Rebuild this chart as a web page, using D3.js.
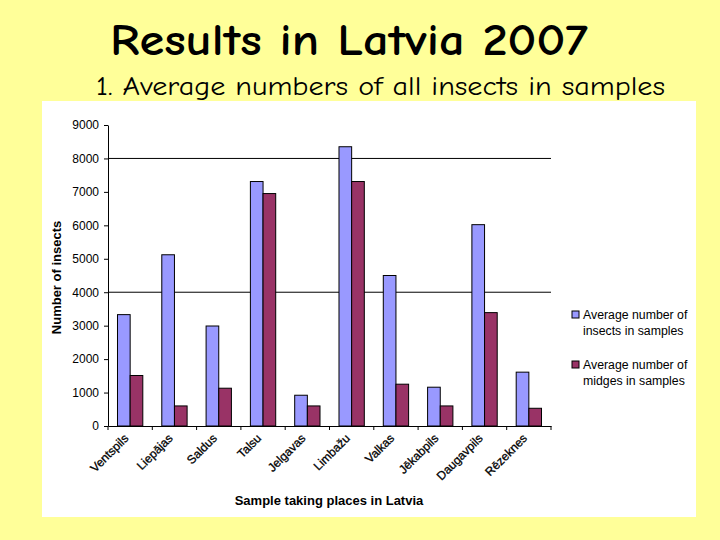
<!DOCTYPE html>
<html><head><meta charset="utf-8">
<script src="https://cdn.jsdelivr.net/npm/d3@7"></script>
<style>
html,body{margin:0;padding:0;background:#FFFF99;}
svg{display:block;}
</style></head>
<body>
<script>
const categories = ["Ventspils","Liepājas","Saldus","Talsu","Jelgavas","Limbažu","Valkas","Jēkabpils","Daugavpils","Rēzeknes"];
const insects = [3330, 5120, 2990, 7310, 920, 8350, 4500, 1160, 6020, 1610];
const midges = [1510, 600, 1130, 6950, 600, 7310, 1250, 600, 3390, 530];
const seriesNames = ["Average number of|insects in samples", "Average number of|midges in samples"];
const yTicks = [0,1000,2000,3000,4000,5000,6000,7000,8000,9000];
const gridValues = [4000, 8000];
const colors = ["#9999FF", "#993366"];

const W = 720, H = 540;
const svg = d3.select("body").append("svg").attr("width", W).attr("height", H);
svg.append("rect").attr("width", W).attr("height", H).attr("fill", "#FFFF99");

svg.append("text").attr("x", 110).attr("y", 55)
  .attr("font-family", "'Comic Sans MS','Comic Neue','DejaVu Sans',sans-serif").attr("font-size", 44).attr("font-weight", "bold")
  .attr("textLength", 478).attr("lengthAdjust", "spacingAndGlyphs")
  .text("Results in Latvia 2007");
svg.append("text").attr("x", 96).attr("y", 95)
  .attr("font-family", "'Comic Sans MS','Comic Neue','DejaVu Sans',sans-serif").attr("font-size", 27)
  .attr("textLength", 569).attr("lengthAdjust", "spacingAndGlyphs")
  .text("1. Average numbers of all insects in samples");

svg.append("rect").attr("x", 42).attr("y", 101).attr("width", 654).attr("height", 416).attr("fill", "#fff");

const x0 = 108, x1 = 551, yTop = 125, yBot = 426;
const x = d3.scaleBand().domain(categories).range([x0, x1]).paddingInner(0).paddingOuter(0);
const y = d3.scaleLinear().domain([0, 9000]).range([yBot, yTop]);
const barW = x.bandwidth() / 3.5;

const g = svg.append("g").attr("font-family", "Arial, 'Liberation Sans', sans-serif");

g.selectAll(".grid").data(gridValues).join("line")
  .attr("x1", x0).attr("x2", x1).attr("y1", d => y(d)).attr("y2", d => y(d))
  .attr("stroke", "#000").attr("stroke-width", 1);

[insects, midges].forEach((vals, si) => {
  g.selectAll(".b" + si).data(categories).join("rect")
    .attr("x", d => x(d) + x.bandwidth() / 2 - barW + si * barW)
    .attr("y", (d, i) => y(vals[i]))
    .attr("width", barW)
    .attr("height", (d, i) => yBot - y(vals[i]))
    .attr("fill", colors[si]).attr("stroke", "#000").attr("stroke-width", 1);
});

const yAxis = d3.axisLeft(y).tickValues(yTicks).tickSize(4).tickSizeOuter(0).tickFormat(d3.format("d"));
const ya = g.append("g").attr("transform", `translate(${x0},0)`).call(yAxis);
ya.selectAll("text").attr("font-size", 12).attr("fill", "#000").attr("x", -9).attr("font-family", "Arial, 'Liberation Sans', sans-serif");
ya.selectAll("line,path").attr("stroke", "#000");

const xAxis = d3.axisBottom(x).tickSize(0).tickSizeOuter(0).tickFormat("");
const xa = g.append("g").attr("transform", `translate(0,${yBot})`).call(xAxis);
xa.selectAll("path").attr("stroke", "#000");
g.selectAll(".xt").data(d3.range(categories.length + 1)).join("line")
  .attr("x1", i => x0 + i * x.bandwidth()).attr("x2", i => x0 + i * x.bandwidth())
  .attr("y1", yBot).attr("y2", yBot + 4).attr("stroke", "#000");

g.selectAll(".xl").data(categories).join("text")
  .attr("transform", d => `translate(${x(d) + x.bandwidth() / 2 - 1},${yBot + 13}) rotate(-45)`)
  .attr("text-anchor", "end").attr("font-size", 12)
  .attr("fill", "#000").attr("stroke", "#000").attr("stroke-width", 0.3).text(d => d);

g.append("text").attr("transform", `translate(61,${(yTop + yBot) / 2 + 2}) rotate(-90)`)
  .attr("text-anchor", "middle").attr("font-size", 13).attr("font-weight", "bold").text("Number of insects");
g.append("text").attr("x", 329).attr("y", 505).attr("text-anchor", "middle")
  .attr("font-size", 13).attr("font-weight", "bold").text("Sample taking places in Latvia");

const lg = g.selectAll(".lg").data(seriesNames).join("g")
  .attr("transform", (d, i) => `translate(572,${311 + i * 50})`);
lg.append("rect").attr("width", 7).attr("height", 7).attr("fill", (d, i) => colors[i]).attr("stroke", "#000");
lg.each(function(d) {
  const parts = d.split("|");
  const t = d3.select(this).append("text").attr("font-size", 12.3).attr("fill", "#000");
  parts.forEach((p, k) => t.append("tspan").attr("x", 11).attr("y", 8 + k * 15.5).text(p));
});
</script>
</body></html>
